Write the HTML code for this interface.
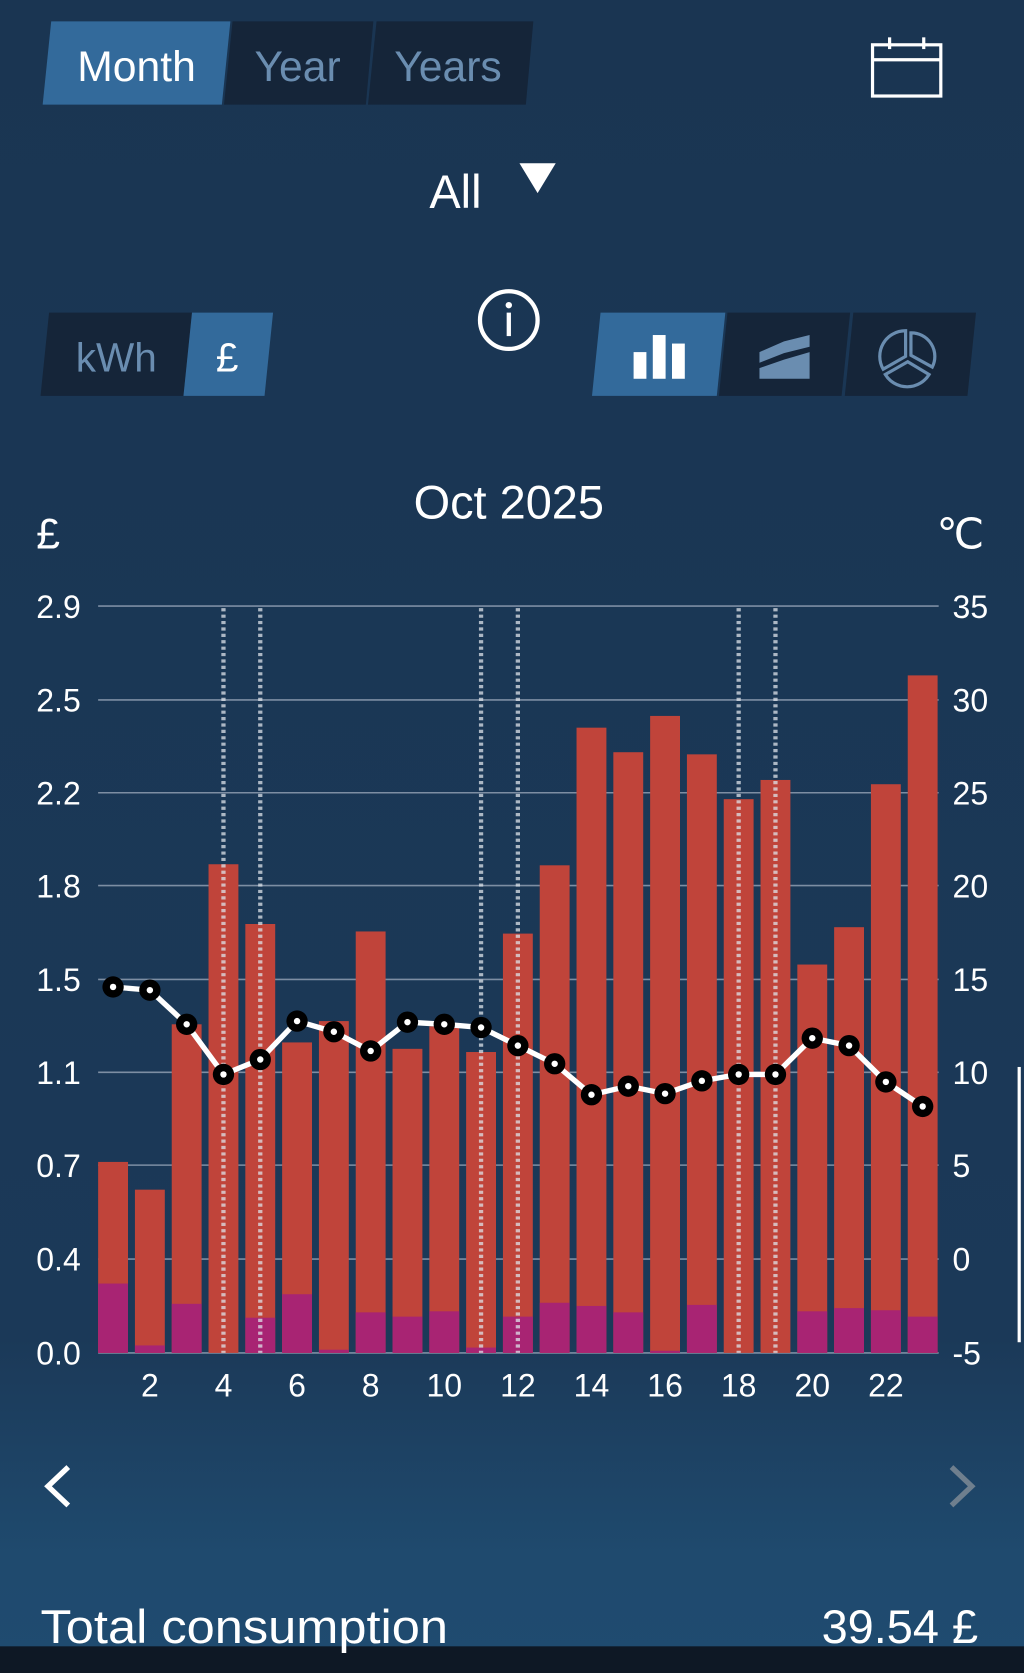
<!DOCTYPE html>
<html><head><meta charset="utf-8"><style>
html,body{margin:0;padding:0;width:1024px;height:1673px;overflow:hidden;background:#1a3552}
svg{display:block}
text{font-family:"Liberation Sans",sans-serif}
</style></head><body>
<svg width="1024" height="1673" viewBox="0 0 960 1568" preserveAspectRatio="none" xmlns="http://www.w3.org/2000/svg">
<defs>
<linearGradient id="bg" x1="0" y1="0" x2="0" y2="1">
<stop offset="0" stop-color="#1a3552"/>
<stop offset="0.8" stop-color="#1b3958"/>
<stop offset="0.93" stop-color="#1f4a6e"/>
<stop offset="1" stop-color="#1f4b70"/>
</linearGradient>
</defs>
<rect width="960" height="1568" fill="url(#bg)"/>
<rect y="1543" width="960" height="25" fill="#0e1825"/>

<path d="M48 20 H216 L208 98 H40 Z" fill="#336a9b"/>
<path d="M218 20 H350 L343 98 H210 Z" fill="#152539"/>
<path d="M353 20 H500 L493 98 H345 Z" fill="#152539"/>
<text x="128" y="76" font-size="40" fill="#fff" text-anchor="middle">Month</text>
<text x="279" y="76" font-size="40" fill="#6a8db0" text-anchor="middle">Year</text>
<text x="420" y="76" font-size="40" fill="#6a8db0" text-anchor="middle">Years</text>
<rect x="818" y="42" width="64" height="48" fill="none" stroke="#fff" stroke-width="3"/>
<line x1="818" y1="56" x2="882" y2="56" stroke="#fff" stroke-width="3"/>
<line x1="834" y1="35" x2="834" y2="46" stroke="#fff" stroke-width="3"/>
<line x1="866" y1="35" x2="866" y2="46" stroke="#fff" stroke-width="3"/>

<text x="427" y="195" font-size="44" fill="#fff" text-anchor="middle">All</text>
<path d="M487 153 H521 L504 181 Z" fill="#fff"/>

<path d="M46 293 H180 L172 371 H38 Z" fill="#152539"/>
<path d="M180 293 H256 L248 371 H172 Z" fill="#336a9b"/>
<text x="109" y="348" font-size="38" fill="#6a8db0" text-anchor="middle">kWh</text>
<text x="213" y="348" font-size="38" fill="#fff" text-anchor="middle">£</text>
<circle cx="477" cy="300" r="27" fill="none" stroke="#fff" stroke-width="4"/>
<circle cx="477" cy="286" r="3" fill="#fff"/>
<rect x="475" y="293" width="4" height="22" fill="#fff"/>
<path d="M563 293 H680 L672 371 H555 Z" fill="#336a9b"/>
<path d="M682 293 H797 L789 371 H674 Z" fill="#152539"/>
<path d="M800 293 H915 L907 371 H792 Z" fill="#152539"/>
<rect x="594" y="330" width="12" height="25" fill="#fff"/>
<rect x="612" y="314" width="12" height="41" fill="#fff"/>
<rect x="630" y="322" width="12" height="33" fill="#fff"/>
<path d="M712 330 L735 320 L759 314 V325 L735 331 L712 340 Z M712 345 L735 337 L759 330 V355 H712 Z" fill="#6a8db0"/>
<g fill="none" stroke="#6a8db0" stroke-width="3">
<path d="M849 310 A24 24 0 0 0 828 346 L849 334 Z"/>
<path d="M854 312 A22 22 0 0 1 874 344 L854 333 Z"/>
<path d="M830 351 A24 24 0 0 0 871 351 L851 339 Z"/>
</g>

<text x="477" y="486" font-size="44" fill="#fff" text-anchor="middle">Oct 2025</text>
<text x="34" y="514" font-size="40" fill="#fff">£</text>
<text x="878" y="514" font-size="40" fill="#fff">℃</text>

<g stroke="#7d8ea3" stroke-width="1.5">
<line x1="92" y1="568" x2="880" y2="568"/>
<line x1="92" y1="656" x2="880" y2="656"/>
<line x1="92" y1="743" x2="880" y2="743"/>
<line x1="92" y1="830" x2="880" y2="830"/>
<line x1="92" y1="918" x2="880" y2="918"/>
<line x1="92" y1="1005" x2="880" y2="1005"/>
<line x1="92" y1="1092" x2="880" y2="1092"/>
<line x1="92" y1="1180" x2="880" y2="1180"/>
<line x1="92" y1="1268" x2="880" y2="1268"/>
</g>
<g font-size="30" fill="#fff">
<text x="34" y="579">2.9</text><text x="34" y="667">2.5</text><text x="34" y="754">2.2</text>
<text x="34" y="841">1.8</text><text x="34" y="929">1.5</text><text x="34" y="1016">1.1</text>
<text x="34" y="1103">0.7</text><text x="34" y="1191">0.4</text><text x="34" y="1279">0.0</text>
<text x="893" y="579">35</text><text x="893" y="667">30</text><text x="893" y="754">25</text>
<text x="893" y="841">20</text><text x="893" y="929">15</text><text x="893" y="1016">10</text>
<text x="893" y="1103">5</text><text x="893" y="1191">0</text><text x="893" y="1279">-5</text>
</g>
<g font-size="30" fill="#fff" text-anchor="middle">
<text x="140.5" y="1309">2</text><text x="209.5" y="1309">4</text><text x="278.5" y="1309">6</text>
<text x="347.5" y="1309">8</text><text x="416.5" y="1309">10</text><text x="485.5" y="1309">12</text>
<text x="554.5" y="1309">14</text><text x="623.5" y="1309">16</text><text x="692.5" y="1309">18</text>
<text x="761.5" y="1309">20</text><text x="830.5" y="1309">22</text>
</g>

<g fill="#c0443a">
<rect x="92" y="1089" width="28" height="179"/>
<rect x="126.5" y="1115" width="28" height="153"/>
<rect x="161" y="960" width="28" height="308"/>
<rect x="195.5" y="810" width="28" height="458"/>
<rect x="230" y="866" width="28" height="402"/>
<rect x="264.5" y="977" width="28" height="291"/>
<rect x="299" y="957" width="28" height="311"/>
<rect x="333.5" y="873" width="28" height="395"/>
<rect x="368" y="983" width="28" height="285"/>
<rect x="402.5" y="962" width="28" height="306"/>
<rect x="437" y="986" width="28" height="282"/>
<rect x="471.5" y="875" width="28" height="393"/>
<rect x="506" y="811" width="28" height="457"/>
<rect x="540.5" y="682" width="28" height="586"/>
<rect x="575" y="705" width="28" height="563"/>
<rect x="609.5" y="671" width="28" height="597"/>
<rect x="644" y="707" width="28" height="561"/>
<rect x="678.5" y="749" width="28" height="519"/>
<rect x="713" y="731" width="28" height="537"/>
<rect x="747.5" y="904" width="28" height="364"/>
<rect x="782" y="869" width="28" height="399"/>
<rect x="816.5" y="735" width="28" height="533"/>
<rect x="851" y="633" width="28" height="635"/>
</g>
<g fill="#a82473">
<rect x="92" y="1203" width="28" height="65"/>
<rect x="126.5" y="1261" width="28" height="7"/>
<rect x="161" y="1222" width="28" height="46"/>
<rect x="230" y="1235" width="28" height="33"/>
<rect x="264.5" y="1213" width="28" height="55"/>
<rect x="299" y="1265" width="28" height="3"/>
<rect x="333.5" y="1230" width="28" height="38"/>
<rect x="368" y="1234" width="28" height="34"/>
<rect x="402.5" y="1229" width="28" height="39"/>
<rect x="437" y="1263" width="28" height="5"/>
<rect x="471.5" y="1234" width="28" height="34"/>
<rect x="506" y="1221" width="28" height="47"/>
<rect x="540.5" y="1224" width="28" height="44"/>
<rect x="575" y="1230" width="28" height="38"/>
<rect x="609.5" y="1266" width="28" height="2"/>
<rect x="644" y="1223" width="28" height="45"/>
<rect x="747.5" y="1229" width="28" height="39"/>
<rect x="782" y="1226" width="28" height="42"/>
<rect x="816.5" y="1228" width="28" height="40"/>
<rect x="851" y="1234" width="28" height="34"/>
</g>
<g stroke="#dde3ea" stroke-opacity="0.75" stroke-width="4" stroke-dasharray="3 3">
<line x1="209.5" y1="570" x2="209.5" y2="1268"/>
<line x1="244" y1="570" x2="244" y2="1268"/>
<line x1="451" y1="570" x2="451" y2="1268"/>
<line x1="485.5" y1="570" x2="485.5" y2="1268"/>
<line x1="692.5" y1="570" x2="692.5" y2="1268"/>
<line x1="727" y1="570" x2="727" y2="1268"/>
</g>
<polyline fill="none" stroke="#fff" stroke-width="5" points="106,925 140.5,928 175,960 209.5,1007 244,993 278.5,957 313,967 347.5,985 382,958 416.5,960 451,963 485.5,980 520,997 554.5,1026 589,1018 623.5,1025 658,1013 692.5,1007 727,1007 761.5,973 796,980 830.5,1014 865,1037"/>
<g fill="#000">
<circle cx="106" cy="925" r="10"/><circle cx="140.5" cy="928" r="10"/><circle cx="175" cy="960" r="10"/>
<circle cx="209.5" cy="1007" r="10"/><circle cx="244" cy="993" r="10"/><circle cx="278.5" cy="957" r="10"/>
<circle cx="313" cy="967" r="10"/><circle cx="347.5" cy="985" r="10"/><circle cx="382" cy="958" r="10"/>
<circle cx="416.5" cy="960" r="10"/><circle cx="451" cy="963" r="10"/><circle cx="485.5" cy="980" r="10"/>
<circle cx="520" cy="997" r="10"/><circle cx="554.5" cy="1026" r="10"/><circle cx="589" cy="1018" r="10"/>
<circle cx="623.5" cy="1025" r="10"/><circle cx="658" cy="1013" r="10"/><circle cx="692.5" cy="1007" r="10"/>
<circle cx="727" cy="1007" r="10"/><circle cx="761.5" cy="973" r="10"/><circle cx="796" cy="980" r="10"/>
<circle cx="830.5" cy="1014" r="10"/><circle cx="865" cy="1037" r="10"/>
</g>
<g fill="#fff">
<circle cx="106" cy="925" r="3"/><circle cx="140.5" cy="928" r="3"/><circle cx="175" cy="960" r="3"/>
<circle cx="209.5" cy="1007" r="3"/><circle cx="244" cy="993" r="3"/><circle cx="278.5" cy="957" r="3"/>
<circle cx="313" cy="967" r="3"/><circle cx="347.5" cy="985" r="3"/><circle cx="382" cy="958" r="3"/>
<circle cx="416.5" cy="960" r="3"/><circle cx="451" cy="963" r="3"/><circle cx="485.5" cy="980" r="3"/>
<circle cx="520" cy="997" r="3"/><circle cx="554.5" cy="1026" r="3"/><circle cx="589" cy="1018" r="3"/>
<circle cx="623.5" cy="1025" r="3"/><circle cx="658" cy="1013" r="3"/><circle cx="692.5" cy="1007" r="3"/>
<circle cx="727" cy="1007" r="3"/><circle cx="761.5" cy="973" r="3"/><circle cx="796" cy="980" r="3"/>
<circle cx="830.5" cy="1014" r="3"/><circle cx="865" cy="1037" r="3"/>
</g>
<rect x="954" y="1000" width="3" height="258" fill="#fff"/>

<path d="M64 1375 L45 1393 L64 1411" fill="none" stroke="#fff" stroke-width="5"/>
<path d="M892 1375 L911 1393 L892 1411" fill="none" stroke="#6f7f8e" stroke-width="5"/>

<text x="38" y="1540" font-size="44" fill="#fff" textLength="382" lengthAdjust="spacingAndGlyphs">Total consumption</text>
<text x="917" y="1540" font-size="44" fill="#fff" text-anchor="end">39.54 £</text>
</svg>
</body></html>
